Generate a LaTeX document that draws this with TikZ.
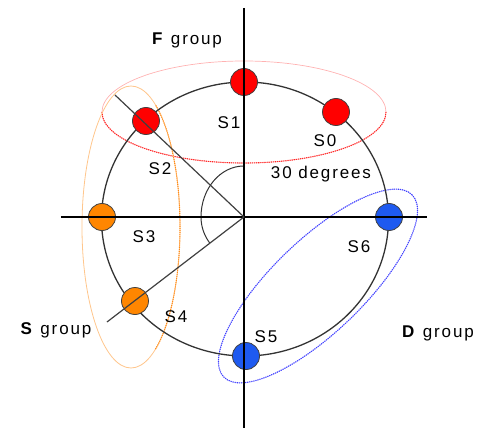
\documentclass[tikz,border=0pt]{standalone}
\usepackage{fontspec}
\setmainfont{Liberation Sans}[LetterSpace=11]
\begin{document}
\begin{tikzpicture}[x=1pt,y=1pt,
  lbl/.style={inner sep=0pt,anchor=base,font=\fontsize{17}{20}\selectfont},
  dot/.style={circle,draw=black!75,line width=0.8pt,minimum size=27pt,inner sep=0pt},
  axis/.style={black,line width=1.4pt},
  radial/.style={black!75,line width=1.2pt}]
\useasboundingbox (-244,-214) rectangle (240,217);
% group ellipses
\draw[red!30,line width=0.7pt] (0,105) ellipse [x radius=142,y radius=51];
\draw[red!85,line width=1.1pt,densely dotted] (0,105) ++(180:142 and 51) arc [start angle=180,end angle=360,x radius=142,y radius=51];
\draw[orange!45,line width=0.8pt] (-113,-10) ellipse [x radius=49,y radius=141];
\draw[orange!90,line width=1.1pt,densely dotted] (-113,-10) ++(-60:49 and 141) arc [start angle=-60,end angle=60,x radius=49,y radius=141];
\draw[blue!25,line width=0.6pt,rotate around={44:(74,-69)}] (74,-69) ellipse [x radius=131,y radius=46];
\draw[blue!75,line width=1.1pt,densely dotted,rotate around={44:(74,-69)}] (74,-69) ellipse [x radius=131,y radius=46];
% main circle
\draw[black!80,line width=1.3pt] (1,-2) ellipse [x radius=143.5,y radius=137];
% angle arc
\draw[black!80,line width=1pt] (0,51) arc [start angle=90,end angle=180,x radius=43,y radius=51]
  arc [start angle=180,end angle=217.5,radius=43];
% dots
\node[dot,fill=red] (s0) at (92,105) {};
\node[dot,fill=red] (s1) at (0,135) {};
\node[dot,fill=red] (s2) at (-98,96) {};
\node[dot,fill=orange!95!yellow] (s3) at (-142,0) {};
\node[dot,fill=orange!95!yellow] (s4) at (-109,-84) {};
\node[dot,fill={rgb,255:red,30;green,90;blue,240}] (s5) at (2,-139) {};
\node[dot,fill={rgb,255:red,30;green,90;blue,240}] (s6) at (145,0) {};
% axes and radial lines
\coordinate (o) at (0,0);
\coordinate (top) at (0,209);
\coordinate (bot) at (0,-211);
\coordinate (lft) at (-183,0);
\coordinate (rgt) at (183,0);
\coordinate (r1) at (-129,122);
\coordinate (r2) at (-137,-105);
\draw[axis] (top) -- (bot);
\draw[axis] (lft) -- (rgt);
\draw[radial] (o) -- (r1);
\draw[radial] (o) -- (r2);
% labels
\node[lbl] (fg) at (-57,172) {\textbf{F} group};
\node[lbl] (l1) at (-15,88) {S1};
\node[lbl] (l0) at (81,70) {S0};
\node[lbl] (l2) at (-84,42) {S2};
\node[lbl] (deg) at (77,38) {30 degrees};
\node[lbl] (l3) at (-100,-25) {S3};
\node[lbl] (l6) at (115,-35) {S6};
\node[lbl] (l4) at (-68,-105) {S4};
\node[lbl] (l5) at (22,-125) {S5};
\node[lbl] (sg) at (-188,-117) {\textbf{S} group};
\node[lbl] (dg) at (194,-120) {\textbf{D} group};
\end{tikzpicture}
\end{document}
